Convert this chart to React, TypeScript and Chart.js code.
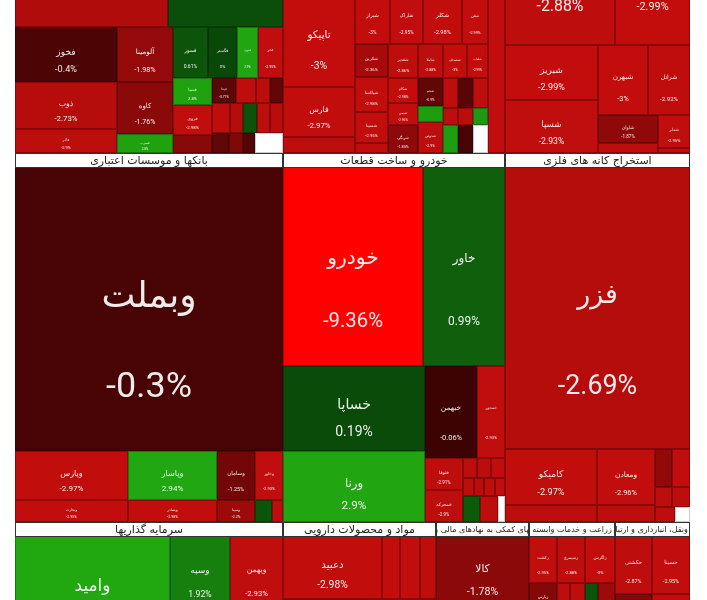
import { useEffect, useRef } from "react";
import { Chart, registerables } from "chart.js";

Chart.register(...registerables);

// ---------- Row 1 (top row, mostly above the view) ----------
const metalsTitle = "فلزات اساسی";
const metalsTickers = ["فولاد", "فملی", "فخوز", "ذوب", "فاذر", "آلومینا", "کاوه", "فسرب", "فسوز", "فگستر", "فنورد", "فجر", "فسپا", "فروی", "فنوال", "فپنتا", "فلوله", "فرآور", "فجام", "فنفت", "فاما", "فسدید", "فکمند", "فباهنر", "فجوش", "فزرین", "فولای", ""];
const metalsValues = [23562, 17710, 5610, 4794, 2448, 3080, 2912, 1064, 1785, 1479, 1071, 1275, 1053, 1170, 702, 600, 500, 350, 325, 540, 390, 420, 390, 390, 340, 280, 240, 560];
const metalsChanges = [-2.6, 0.35, -0.4, -2.73, -2.9, -1.98, -1.76, 2.8, 0.61, 0, 2.9, -2.95, 2.8, -2.98, -1.7, -0.77, -2.9, -2.85, -0.9, -2.9, -2.7, 0.5, -2.9, -2.8, -0.8, -1.5, -0.5, null];
const metalsGroups = [[0, 1], [[2, 3, 4], [5, 6, 7], [[8, 9, 10, 11], [[12, 13, 14], [[15, 16, 17, 18], [19, 20, 21, 22, 23], [24, 25, 26, 27]]]]]];

const chemTitle = "محصولات شیمیایی";
const chemTickers = ["پارس", "نوری", "تاپیکو", "فارس", "شپدیس", "شیراز", "شاراک", "شکلر", "شفن", "شکربن", "شپاکسا", "شسینا", "شبصیر", "شغدیر", "شاملا", "شصدف", "شلعاب", "شکام", "شیمی", "شرنگی", "شجم", "شزنگ", "شدوص", "شوینده", "شپترو", "شفارس", "شخارک", "شگل", "شملی", "شفارا", "شکف", "", "شتوکا"];
const chemValues = [14280, 12138, 6840, 3600, 1152, 1820, 1716, 2028, 1352, 1089, 1155, 1023, 330, 1020, 850, 816, 714, 750, 660, 840, 700, 400, 775, 450, 450, 450, 255, 255, 255, 420, 420, 420, 2737];
const chemChanges = [-2.9, -2.95, -3, -2.97, -2.9, -3, -2.95, -2.98, -2.99, -2.36, -2.98, -2.95, -2.9, -2.86, -2.88, -3, -2.99, -2.98, -2.96, -1.85, -0.9, 2.7, -2.9, -2.9, -0.7, -2.9, -2.9, -2.85, 2.6, 2.7, -0.3, null, -2.95];
const chemGroups = [[0, 1], [[2, 3, 4], [[5, 6, 7, 8], [[9, 10, 11, 12], [[13, 14, 15, 16], [[17, 18, 19], [20, 21, 22], [[23, 24, 25], [26, 27, 28], [29, 30, 31]]]]]], 32]];

const oilTitle = "فراورده های نفتی، کک و سوخت هسته ای";
const oilTickers = ["شبندر", "شپنا", "شبریز", "شسپا", "شبهرن", "شرانل", "شاوان", "شنفت", "شدلر", "شگویا"];
const oilValues = [18920, 12900, 5115, 4929, 3500, 2940, 1680, 600, 1056, 160];
const oilChanges = [-2.88, -2.99, -2.99, -2.93, -3, -2.92, -1.87, -2.9, -2.95, -2.9];
const oilGroups = [[0, 1], [[2, 3], [[4, 5], [[6, 7], [8, 9]]]]];

// ---------- Row 2 ----------
const bankTitle = "بانکها و موسسات اعتباری";
const bankTickers = ["وبملت", "وپارس", "وتجارت", "وپاسار", "وبصادر", "وسامان", "وخاور", "وسینا", "وکار", "ودی"];
const bankValues = [76112, 5537, 2486, 4361, 1958, 1862, 1372, 836, 374, 242];
const bankChanges = [-0.3, -2.97, -2.95, 2.94, -2.98, -1.25, -2.93, -2.2, 0.6, -2.9];
const bankGroups = [0, [[1, 2], [3, 4], [[5, 6], [7, 8, 9]]]];

const autoTitle = "خودرو و ساخت قطعات";
const autoTickers = ["خودرو", "خاور", "خساپا", "ورنا", "خبهمن", "خمحور", "ختوقا", "خمحرکه", "خکمک", "خفنر", "خلنت", "خپارس", "خچرخش", "خرینگ", "خاهن", "خاذین", "خشرق", ""];
const autoValues = [27860, 16318, 12070, 10082, 4784, 2576, 1216, 1216, 280, 280, 280, 189, 189, 189, 189, 442, 468, 182];
const autoChanges = [-9.36, 0.99, 0.19, 2.9, -0.06, -2.93, -2.91, -2.9, -2.9, -2.85, -2.95, -2.9, -2.8, -2.9, -2.95, 0.8, -2.9, null];
const autoGroups = [[0, 1], [[2, 3], [[4, 5], [[6, 7], [[8, 9, 10], [11, 12, 13, 14], [15, 16, 17]]]]]];

const miningTitle = "استخراج کانه های فلزی";
const miningTickers = ["فزر", "کامیکو", "کروی", "ومعادن", "کگل", "کنور", "کچاد", "کگهر", "کمنگنز", "کطبس", ""];
const miningValues = [52170, 5152, 1564, 3248, 986, 646, 684, 340, 360, 300, 225];
const miningChanges = [-2.69, -2.97, -2.9, -2.96, -2.9, -1.9, -2.95, -2.9, -2.9, -2.9, null];
const miningGroups = [0, [[1, 2], [3, 4], [[5, 6], [7, 8], [9, 10]]]];

// ---------- Row 3 (bottom, mostly below the view) ----------
const investTitle = "سرمایه گذاریها";
const investTickers = ["وامید", "وسپه", "وبهمن", "وصنا", "وبانک"];
const investValues = [17050, 4500, 3975, 3955, 10720];
const investChanges = [2.95, 1.92, -2.93, -2.5, -2.8];
const investGroups = [[0, [[1, 2], 3]], 4];

const pharmaTitle = "مواد و محصولات دارویی";
const pharmaTickers = ["دعبید", "دتماد", "دسبحا", "داملا", "دجابر", "دکوثر"];
const pharmaValues = [6237, 1134, 1260, 1008, 6960, 6351];
const pharmaChanges = [-2.98, -3, -2.96, -2.9, -2.7, -2.8];
const pharmaGroups = [[0, 1, 2, 3], [4, 5]];

const finTitle = "فعالیتهای کمکی به نهادهای مالی واسط";
const finTickers = ["کالا", "فرابورس", "کارا"];
const finValues = [6696, 3900, 3354];
const finChanges = [-1.78, -2.5, -2.9];
const finGroups = [0, [1, 2]];

const agriTitle = "زراعت و خدمات وابسته";
const agriTickers = ["زکشت", "زسیمرغ", "زاگرس", "زپارس", "زشریف", "زفکا", "زدشت", "زبینا", "زفجر", "زگلدشت"];
const agriValues = [1316, 1316, 1410, 840, 390, 450, 390, 510, 3358, 2920];
const agriChanges = [-2.95, -2.88, -3, -1.6, -2.9, -2.9, 0.5, -2.2, -2.7, -2.9];
const agriGroups = [[0, 1, 2], [3, 4, 5, 6, 7], [8, 9]];

const transTitle = "حمل ونقل، انبارداری و ارتباطات";
const transTickers = ["حکشتی", "حسینا", "حتاید", "حپارسا"];
const transValues = [2146, 2204, 3404, 3496];
const transChanges = [-2.87, -2.95, -1.5, -2.9];
const transGroups = [[0, 1], [2, 3]];

type Sector = { title: string; tickers: string[]; values: number[]; changes: (number | null)[]; groups: any };
const mk = (title: string, tickers: string[], values: number[], changes: (number | null)[], groups: any): Sector => ({ title, tickers, values, changes, groups });

const rows: Sector[][] = [
  [mk(metalsTitle, metalsTickers, metalsValues, metalsChanges, metalsGroups), mk(chemTitle, chemTickers, chemValues, chemChanges, chemGroups), mk(oilTitle, oilTickers, oilValues, oilChanges, oilGroups)],
  [mk(bankTitle, bankTickers, bankValues, bankChanges, bankGroups), mk(autoTitle, autoTickers, autoValues, autoChanges, autoGroups), mk(miningTitle, miningTickers, miningValues, miningChanges, miningGroups)],
  [mk(investTitle, investTickers, investValues, investChanges, investGroups), mk(pharmaTitle, pharmaTickers, pharmaValues, pharmaChanges, pharmaGroups), mk(finTitle, finTickers, finValues, finChanges, finGroups), mk(agriTitle, agriTickers, agriValues, agriChanges, agriGroups), mk(transTitle, transTickers, transValues, transChanges, transGroups)],
];

const TREE_WIDTH = 675;
const HEADER = 14;

type Cell = { name: string; change: number | null; x0: number; y0: number; x1: number; y1: number };
type Header = { title: string; x0: number; y0: number; x1: number; y1: number };

function groupSum(node: any, values: number[]): number {
  return typeof node === "number" ? values[node] : node.reduce((s: number, n: any) => s + groupSum(n, values), 0);
}

function place(node: any, depth: number, x0: number, y0: number, x1: number, y1: number, s: Sector, out: Cell[]) {
  if (typeof node === "number") {
    out.push({ name: s.tickers[node], change: s.changes[node], x0, y0, x1, y1 });
    return;
  }
  const sums = node.map((n: any) => groupSum(n, s.values));
  const total = sums.reduce((a: number, b: number) => a + b, 0);
  let acc = 0;
  node.forEach((n: any, k: number) => {
    const a = acc / total;
    const b = (acc + sums[k]) / total;
    if (depth % 2 === 0) place(n, depth + 1, x0, y0 + (y1 - y0) * a, x1, y0 + (y1 - y0) * b, s, out);
    else place(n, depth + 1, x0 + (x1 - x0) * a, y0, x0 + (x1 - x0) * b, y1, s, out);
    acc += sums[k];
  });
}

function buildLayout() {
  const cells: Cell[] = [];
  const headers: Header[] = [];
  const rowTops: number[] = [];
  let top = 0;
  rows.forEach((row) => {
    rowTops.push(top);
    const sums = row.map((s) => groupSum(s.groups, s.values));
    const total = sums.reduce((a, b) => a + b, 0);
    const bodyH = total / TREE_WIDTH;
    let left = 0;
    row.forEach((s, k) => {
      const w = (TREE_WIDTH * sums[k]) / total;
      headers.push({ title: s.title, x0: left, y0: top, x1: left + w, y1: top + HEADER });
      place(s.groups, 0, left, top + HEADER, left + w, top + HEADER + bodyH, s, cells);
      left += w;
    });
    top += HEADER + bodyH;
  });
  return { cells, headers, rowTops };
}

function lerp(a: number[], b: number[], t: number) {
  const c = a.map((v, i) => Math.round(v + (b[i] - v) * t));
  return `rgb(${c[0]},${c[1]},${c[2]})`;
}

function colorFor(p: number | null) {
  if (p === null) return "#ffffff";
  if (p >= 0) return lerp([10, 72, 10], [34, 170, 17], Math.pow(Math.min(p / 3, 1), 1.3));
  const a = -p;
  if (a <= 3) return lerp([58, 3, 3], [195, 13, 13], a / 3);
  return lerp([195, 13, 13], [255, 0, 0], Math.min((a - 3) / 3, 1));
}

const FONT = "Roboto, 'DejaVu Sans', sans-serif";
const HEADER_FONT = "'DejaVu Sans', sans-serif";

export default function App() {
  const ref = useRef<HTMLCanvasElement | null>(null);

  useEffect(() => {
    if (!ref.current) return;
    const { cells, headers, rowTops } = buildLayout();
    const viewTop = rowTops[1] - 153;

    const treemapPlugin = {
      id: "treemapCells",
      beforeDatasetsDraw(chart: any) {
        const { ctx, chartArea } = chart;
        const xs = chart.scales.x;
        const ys = chart.scales.y;
        ctx.save();
        ctx.beginPath();
        ctx.rect(chartArea.left, chartArea.top, chartArea.right - chartArea.left, chartArea.bottom - chartArea.top);
        ctx.clip();
        const px = (v: number) => Math.round(xs.getPixelForValue(v));
        const py = (v: number) => Math.round(ys.getPixelForValue(v));

        for (const c of cells) {
          const x0 = px(c.x0), x1 = px(c.x1), y0 = py(c.y0), y1 = py(c.y1);
          const w = x1 - x0, h = y1 - y0;
          if (y1 < chartArea.top - 2 || y0 > chartArea.bottom + 2) continue;
          ctx.fillStyle = colorFor(c.change);
          ctx.fillRect(x0, y0, w, h);
          ctx.strokeStyle = c.change === null ? "rgba(0,0,0,0.2)" : "rgba(0,0,0,0.28)";
          ctx.lineWidth = 1;
          ctx.strokeRect(x0 + 0.5, y0 + 0.5, w - 1, h - 1);
          if (c.change === null || !c.name) continue;
          const f = Math.min(0.13 * Math.sqrt(w * h), 0.145 * w, 0.165 * h, 36);
          if (f < 3) continue;
          ctx.save();
          ctx.beginPath();
          ctx.rect(x0, y0, w, h);
          ctx.clip();
          ctx.fillStyle = "rgba(255,255,255,0.92)";
          ctx.textAlign = "center";
          ctx.textBaseline = "middle";
          ctx.font = `${f.toFixed(1)}px ${FONT}`;
          const cx = (x0 + x1) / 2;
          ctx.fillText(c.name, cx, y0 + 0.46 * h);
          ctx.fillText(`${c.change}%`, cx, y0 + 0.78 * h);
          ctx.restore();
        }

        for (const hd of headers) {
          const x0 = px(hd.x0), x1 = px(hd.x1), y0 = py(hd.y0), y1 = py(hd.y1);
          const w = x1 - x0, h = y1 - y0;
          if (y1 < chartArea.top - 2 || y0 > chartArea.bottom + 2) continue;
          ctx.fillStyle = "#ffffff";
          ctx.fillRect(x0, y0, w, h);
          ctx.strokeStyle = "#333333";
          ctx.lineWidth = 1;
          ctx.strokeRect(x0 + 0.5, y0 + 0.5, w - 1, h);
          ctx.save();
          ctx.beginPath();
          ctx.rect(x0 + 1, y0, w - 2, h);
          ctx.clip();
          ctx.fillStyle = "#222222";
          ctx.textAlign = "center";
          ctx.textBaseline = "middle";
          ctx.font = `11px ${HEADER_FONT}`;
          const tw = ctx.measureText(hd.title).width;
          const size = Math.max(8, Math.min(11, (11 * (w - 6)) / tw));
          ctx.font = `${size.toFixed(1)}px ${HEADER_FONT}`;
          ctx.fillText(hd.title, (x0 + x1) / 2, y0 + h / 2 + 1);
          ctx.restore();
        }
        ctx.restore();
      },
    };

    const chart = new Chart(ref.current, {
      type: "scatter",
      data: {
        datasets: [
          {
            label: "market",
            data: cells.map((c) => ({ x: (c.x0 + c.x1) / 2, y: (c.y0 + c.y1) / 2 })),
            pointRadius: 0,
            pointHoverRadius: 0,
          },
        ],
      },
      options: {
        animation: false,
        responsive: true,
        maintainAspectRatio: false,
        events: [],
        layout: { padding: 0 },
        plugins: { legend: { display: false }, tooltip: { enabled: false } },
        scales: {
          x: { type: "linear", display: false, min: -15, max: TREE_WIDTH + 17 },
          y: { type: "linear", display: false, reverse: true, min: viewTop, max: viewTop + 600 },
        },
      },
      plugins: [treemapPlugin],
    });
    return () => chart.destroy();
  }, []);

  return (
    <div style={{ position: "fixed", left: 0, top: 0, width: 707, height: 600, background: "#ffffff" }}>
      <canvas ref={ref} />
    </div>
  );
}
